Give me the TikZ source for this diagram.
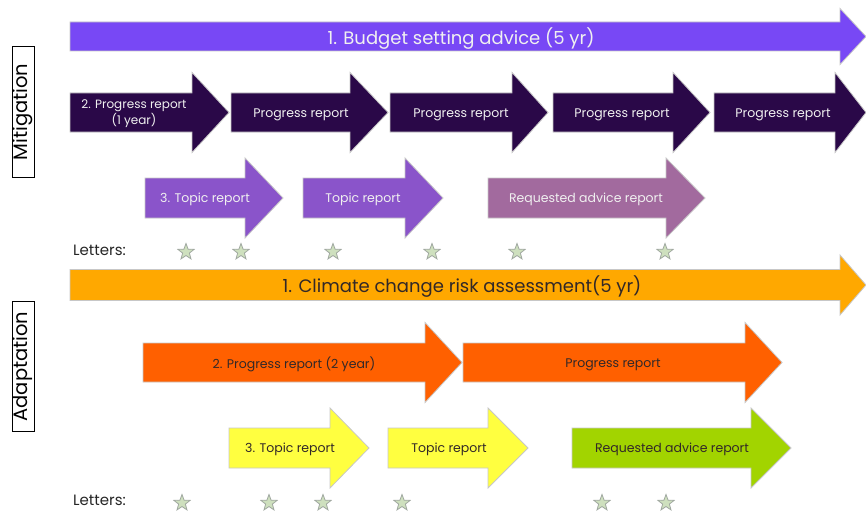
\documentclass[tikz,border=0pt]{standalone}
\usepackage{fontspec}
\setmainfont{Poppins}
\usetikzlibrary{shapes.geometric}
\definecolor{budget}{RGB}{120,72,245}
\definecolor{darkprog}{RGB}{42,8,72}
\definecolor{topicm}{RGB}{138,84,202}
\definecolor{reqm}{RGB}{162,106,158}
\definecolor{climate}{RGB}{255,168,0}
\definecolor{oprog}{RGB}{255,96,0}
\definecolor{ytopic}{RGB}{255,255,64}
\definecolor{greq}{RGB}{162,212,0}
\definecolor{starfill}{RGB}{206,224,190}
\definecolor{stardraw}{RGB}{160,168,160}
\definecolor{darktext}{RGB}{50,40,40}
\newcommand{\blockarr}[7]{%
  \path[#1] ({#2},{#5-#6}) -- ({#3},{#5-#6}) -- ({#3},{#5-#7}) -- ({#4},{#5})
    -- ({#3},{#5+#7}) -- ({#3},{#5+#6}) -- ({#2},{#5+#6}) -- cycle;}
\tikzset{
  arrbase/.style={draw=black!22, line width=0.8pt},
  wtxt/.style={text=white!94!black, inner sep=0pt, align=center, yshift=-1.5pt, font=\fontsize{12.5}{15}\selectfont},
  dtxt/.style={text=darktext, inner sep=0pt, align=center, yshift=-1.5pt, font=\fontsize{12.5}{15}\selectfont},
  bigw/.style={wtxt, font=\fontsize{18}{20}\selectfont},
  bigd/.style={dtxt, font=\fontsize{18}{20}\selectfont},
  lstar/.style={star, star points=5, star point ratio=2.4, minimum size=17pt, inner sep=0pt,
    fill=starfill, draw=stardraw, line width=0.8pt},
  lettxt/.style={text=black!85, inner sep=0pt, font=\fontsize{15}{17}\selectfont},
  sidebox/.style={draw=black, line width=1pt, rotate=90, minimum width=130pt, minimum height=22pt,
    inner sep=0pt, font=\fontsize{19.5}{22}\selectfont}
}
\begin{document}
\begin{tikzpicture}[x=1pt,y=-1pt]
\useasboundingbox[fill=white] (0,0) rectangle (866,516);
% ---------------- Mitigation ----------------
\node[sidebox] (mit) at (23,112) {Mitigation};
\blockarr{arrbase,fill=budget}{70}{840}{866}{36.5}{14.5}{28}
\node[bigw] (budget) at (461,37) {1. Budget setting advice (5 yr)};
% progress reports (1 year)
\blockarr{arrbase,fill=darkprog}{70}{192}{229}{112.5}{19.5}{40}
\blockarr{arrbase,fill=darkprog}{231}{350}{388}{112.5}{19.5}{40}
\blockarr{arrbase,fill=darkprog}{390}{512}{548}{112.5}{19.5}{40}
\blockarr{arrbase,fill=darkprog}{553}{673}{710}{112.5}{19.5}{40}
\blockarr{arrbase,fill=darkprog}{714}{835}{866}{112.5}{19.5}{40}
\node[wtxt, font=\fontsize{12}{16}\selectfont] (mp1) at (134,112) {2. Progress report\\(1 year)};
\node[wtxt] (mp2) at (301,113) {Progress report};
\node[wtxt] (mp3) at (461,113) {Progress report};
\node[wtxt] (mp4) at (622,113) {Progress report};
\node[wtxt] (mp5) at (783,113) {Progress report};
% topic reports
\blockarr{arrbase,fill=topicm}{145}{245}{283}{198}{20}{40}
\blockarr{arrbase,fill=topicm}{303}{405}{443}{198}{20}{40}
\blockarr{arrbase,fill=reqm}{488}{666}{705}{198}{20}{40}
\node[wtxt] (mt1) at (205,198) {3. Topic report};
\node[wtxt] (mt2) at (363,198) {Topic report};
\node[wtxt] (mt3) at (586,198) {Requested advice report};
% letters
\node[lettxt, anchor=west] (mlet) at (73,250) {Letters:};
\node[lstar] (ms1) at (186,252) {};
\node[lstar] (ms2) at (241,252) {};
\node[lstar] (ms3) at (333,252) {};
\node[lstar] (ms4) at (432,252) {};
\node[lstar] (ms5) at (517,252) {};
\node[lstar] (ms6) at (665,252) {};
% ---------------- Adaptation ----------------
\node[sidebox] (ada) at (23,366.5) {Adaptation};
\blockarr{arrbase,fill=climate}{70}{840}{866}{285}{15.5}{30}
\node[bigd] (climate) at (462,285) {1. Climate change risk assessment(5 yr)};
% progress reports (2 year)
\blockarr{arrbase,fill=oprog}{143}{425}{462}{362.5}{19.5}{40}
\blockarr{arrbase,fill=oprog}{463}{745}{782}{362.5}{19.5}{40}
\node[dtxt] (ap1) at (294,363) {2. Progress report (2 year)};
\node[dtxt] (ap2) at (613,363) {Progress report};
% topic reports
\blockarr{arrbase,fill=ytopic}{229}{330}{369}{448}{20}{40}
\blockarr{arrbase,fill=ytopic}{388}{488}{528}{448}{20}{40}
\blockarr{arrbase,fill=greq}{572}{751}{791}{448}{20}{40}
\node[dtxt] (at1) at (290,448) {3. Topic report};
\node[dtxt] (at2) at (449,448) {Topic report};
\node[dtxt] (at3) at (672,448) {Requested advice report};
% letters
\node[lettxt, anchor=west] (alet) at (73,500) {Letters:};
\node[lstar] (as1) at (182,503) {};
\node[lstar] (as2) at (269,503) {};
\node[lstar] (as3) at (323,503) {};
\node[lstar] (as4) at (402,503) {};
\node[lstar] (as5) at (602,503) {};
\node[lstar] (as6) at (666,503) {};
\end{tikzpicture}
\end{document}
